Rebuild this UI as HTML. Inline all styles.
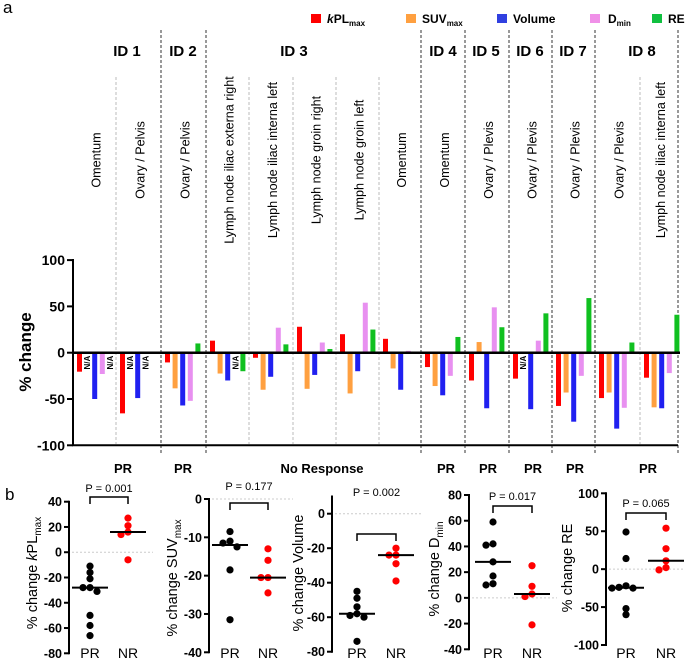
<!DOCTYPE html>
<html><head><meta charset="utf-8">
<style>
html,body{margin:0;padding:0;background:#fff;}
svg{display:block;font-family:"Liberation Sans",Arial,sans-serif;}
</style></head>
<body>
<svg id="fig" width="685" height="659" viewBox="0 0 685 659" xmlns="http://www.w3.org/2000/svg">
<text x="3" y="13" font-size="17">a</text>
<text x="5" y="500" font-size="17">b</text>
<g font-size="12" font-weight="bold">
 <rect x="311" y="14" width="10" height="9" fill="#ff0000"/>
 <text x="327" y="23"><tspan font-style="italic">k</tspan>PL<tspan font-size="8" dy="3">max</tspan></text>
 <rect x="406" y="14" width="10" height="9" fill="#ffa040"/>
 <text x="422" y="23">SUV<tspan font-size="8" dy="3">max</tspan></text>
 <rect x="497" y="14" width="10" height="9" fill="#3040e0"/>
 <text x="513" y="23">Volume</text>
 <rect x="590" y="14" width="10" height="9" fill="#f090e8"/>
 <text x="608" y="23">D<tspan font-size="8" dy="3">min</tspan></text>
 <rect x="652" y="14" width="10" height="9" fill="#10c040"/>
 <text x="668" y="23">RE</text>
</g>
<g id="barchart"></g>
<g id="dots"></g>
</svg>
<script>
// ---------- panel a data ----------
const lesionNames = ["Omentum","Ovary / Pelvis","Ovary / Pelvis","Lymph node iliac externa right","Lymph node iliac interna left","Lymph node groin right","Lymph node groin left","Omentum","Omentum","Ovary / Plevis","Ovary / Plevis","Ovary / Plevis","Ovary / Plevis","Lymph node iliac interna left"];
const kplValues = [-20.5,-65.5,-10.5,13,-5.5,28,20,15,-15.5,-30,-28,-57.5,-49,-27];
const suvValues = [null,null,-38.5,-22.5,-40,-39,-44,-17,-36,11.5,null,-43,-43,-59];
const volumeValues = [-50,-49,-57,-30,-26,-24,-20,-40,-46,-60,-61,-74.5,-82,-60];
const dminValues = [-23,null,-52,null,27,11,54,2,-25,49,13,-25,-59.5,-22];
const reValues = [null,null,10,-20,9,4,25,0,17,27.5,42.5,59,11,41];
const idLabels = ["ID 1","ID 2","ID 3","ID 4","ID 5","ID 6","ID 7","ID 8"];
const responseLabels = ["PR","PR","No Response","PR","PR","PR","PR","PR"];
const yTicksA = [100,50,0,-50,-100];

// ---------- panel b data ----------
const kplPR = [-11,-16,-21,-28,-28,-31,-50,-58,-66];
const kplNR = [27,21,16,14,-6];
const suvPR = [-8.5,-11,-11.5,-12.5,-18.5,-31.5];
const suvNR = [-13,-16,-20.5,-20.5,-24.5];
const volPR = [-45,-49,-54,-58,-59,-60,-74];
const volNR = [-20,-24,-24,-29,-39];
const dminPR = [59,42,41,28,17,11,10];
const dminNR = [25,9,3,1,-21];
const rePR = [49,14,-22,-24,-25,-25,-52,-60];
const reNR = [54,27,11,2,-1];
const pValues = ["P = 0.001","P = 0.177","P = 0.002","P = 0.017","P = 0.065"];

const NS = "http://www.w3.org/2000/svg";
function mk(parent, tag, attrs, txt){
  const e = document.createElementNS(NS, tag);
  for (const k in attrs) e.setAttribute(k, attrs[k]);
  if (txt !== undefined) e.textContent = txt;
  parent.appendChild(e);
  return e;
}

// ---------- panel a ----------
const bc = document.getElementById('barchart');
const Y0 = 352.7, SC = 0.926;
function yA(v){ return Y0 - v*SC; }
const lesionStarts = [73,116,161,206,249,293,336,379,421,465,509,552,595,640];
const lesionEnd = 678;
const darkSeps = [161,206,421,465,509,552,595,678];
const lightSeps = [116,249,293,336,379,640];
lightSeps.forEach(x=>{
  const l = mk(bc,'line',{x1:x,x2:x,y1:77,y2:444,stroke:'#bbb','stroke-width':1,'stroke-dasharray':'3,2'});
  
  
});
darkSeps.forEach(x=>{
  const l = mk(bc,'line',{x1:x,x2:x,y1:30,y2:455,stroke:'#333','stroke-width':1,'stroke-dasharray':'3,2'});
  
  
});
const ya = mk(bc,'line',{x1:73,x2:73,y1:259,y2:445,stroke:'#000','stroke-width':2});


yTicksA.forEach(t=>{
  const tk = mk(bc,'line',{x1:67,x2:73,y1:yA(t),y2:yA(t),stroke:'#000','stroke-width':2});
  
  
  const tl = mk(bc,'text',{x:65,y:yA(t)+5,'text-anchor':'end','font-size':14,'font-weight':'bold'},String(t));
  
  
});
const yt = mk(bc,'text',{x:0,y:0,'text-anchor':'middle','font-size':17,'font-weight':'bold',transform:'translate(31,352) rotate(-90)'},'% change');



const series = [kplValues,suvValues,volumeValues,dminValues,reValues];
const colors = ['#ff0000','#ffa040','#2020f0','#e890f0','#10c020'];
const seriesNames = ['kpl','suv','volume','dmin','re'];
lesionStarts.forEach((x0,i)=>{
  const x1 = i<lesionStarts.length-1 ? lesionStarts[i+1] : lesionEnd;
  const cx = (x0+x1)/2 + 2;
  const lab = mk(bc,'text',{x:0,y:0,'text-anchor':'middle','font-size':12.6,transform:`translate(${cx+4},160) rotate(-90)`},lesionNames[i]);
  
  
  let naShown = 0;
  series.forEach((arr,s)=>{
    const bx = x0 + 4 + s*7.6;
    const v = arr[i];
    if (v === null){
      // consecutive missing values share one label
      if (s>0 && arr !== series[0] && series[s-1][i] === null && naShown && s===naShown+1 && s!==1){ naShown = s; return; }
      if (s>=3 && series[s-1][i] === null && s-1>=3){ return; }
      naShown = s;
      const na = mk(bc,'text',{x:0,y:0,'text-anchor':'end','font-size':8,'font-weight':'bold',transform:`translate(${bx+5.5},${Y0+3}) rotate(-90)`},'N/A');
      
      
      return;
    }
    const top = Math.min(yA(v),Y0), h = Math.abs(yA(v)-Y0);
    const r = mk(bc,'rect',{x:bx,y:top,width:5,height:h,fill:colors[s]});
    
    
  });
});
const zl = mk(bc,'line',{x1:73,x2:680,y1:Y0,y2:Y0,stroke:'#000','stroke-width':2.5});


const bl = mk(bc,'line',{x1:72,x2:678,y1:yA(-100),y2:yA(-100),stroke:'#000','stroke-width':2});



const idX = [127,183,294,443,486,530,573,642];
const respX = [123,183,322,446,488,533,575,648];
idLabels.forEach((t,i)=>{
  const e = mk(bc,'text',{x:idX[i],y:56,'text-anchor':'middle','font-size':15,'font-weight':'bold'},t);
  
  
});
responseLabels.forEach((t,i)=>{
  const e = mk(bc,'text',{x:respX[i],y:473,'text-anchor':'middle','font-size':13,'font-weight':'bold'},t);
  
  
});

// ---------- panel b ----------
const dots = document.getElementById('dots');
const plots = [
 {ax:69, vTop:40, yTop:501.7, vBot:-80, yBot:653.3, axTop:40, ticks:[40,20,0,-20,-40,-60,-80], xPR:90, xNR:128, brY:497, pY:492, pr:kplPR, nr:kplNR, tx:32, ty:573, title:'kpl', zero:0},
 {ax:209, vTop:0, yTop:499, vBot:-40, yBot:652.3, axTop:0, ticks:[0,-10,-20,-30,-40], xPR:230, xNR:268, brY:503, pY:490, pr:suvPR, nr:suvNR, tx:172, ty:578, title:'suv', zero:0},
 {ax:332, vTop:0, yTop:513.7, vBot:-80, yBot:651.7, axTop:10, ticks:[0,-20,-40,-60,-80], xPR:357, xNR:396, brY:534, pY:496, pr:volPR, nr:volNR, tx:298, ty:573, title:'volume', zero:0},
 {ax:469, vTop:80, yTop:495, vBot:-40, yBot:649.3, axTop:80, ticks:[80,60,40,20,0,-20,-40], xPR:493, xNR:532, brY:506, pY:500, pr:dminPR, nr:dminNR, tx:434, ty:569, title:'dmin', zero:0},
 {ax:606, vTop:100, yTop:493.3, vBot:-100, yBot:645, axTop:100, ticks:[100,50,0,-50,-100], xPR:626, xNR:666, brY:513, pY:507, pr:rePR, nr:reNR, tx:567, ty:568, title:'re', zero:0}
];
function median(a){ const s=[...a].sort((p,q)=>p-q); const n=s.length; return n%2? s[(n-1)/2] : (s[n/2-1]+s[n/2])/2; }
plots.forEach((p,pi)=>{
  const g = mk(dots,'g',{});
  
  
  const yv = v => p.yTop + (p.vTop - v)*(p.yBot-p.yTop)/(p.vTop-p.vBot);
  const zr = mk(g,'line',{x1:p.ax+3,x2:p.xNR+25,y1:yv(p.zero),y2:yv(p.zero),stroke:'#ccc','stroke-width':1,'stroke-dasharray':'2,2'});
  
  
  const axl = mk(g,'line',{x1:p.ax,x2:p.ax,y1:yv(p.axTop)-1,y2:p.yBot+1,stroke:'#000','stroke-width':2});
  
  
  p.ticks.forEach(t=>{
    const tk = mk(g,'line',{x1:p.ax-5,x2:p.ax,y1:yv(t),y2:yv(t),stroke:'#000','stroke-width':2});
    
    
    const tl = mk(g,'text',{x:p.ax-7,y:yv(t)+4.5,'text-anchor':'end','font-size':12.5,'font-weight':'bold'},String(t));
    
    
  });
  [['PR',p.xPR],['NR',p.xNR]].forEach(([t,x])=>{
    const e = mk(g,'text',{x:x,y:658,'text-anchor':'middle','font-size':14},t);
    
    
  });
  const br = mk(g,'path',{d:`M${p.xPR},${p.brY+7}V${p.brY}H${p.xNR}V${p.brY+7}`,fill:'none',stroke:'#000','stroke-width':1.5});
  
  
  const pt = mk(g,'text',{x:(p.xPR+p.xNR)/2,y:p.pY,'text-anchor':'middle','font-size':11},pValues[pi]);
  
  
  [[p.pr,p.xPR,'#000','pr'],[p.nr,p.xNR,'#ff0000','nr']].forEach(([arr,xc,col,nm])=>{
    const placed = [];
    arr.forEach(v=>{
      const y = yv(v);
      const near = placed.filter(q=>Math.abs(q-y)<6).length;
      const dx = near===0 ? 0 : (near%2===1 ? -1 : 1)*Math.ceil(near/2)*7;
      placed.push(y);
      const c = mk(g,'circle',{cx:xc+dx,cy:y,r:3.6,fill:col});
      
      
    });
    const m = yv(median(arr));
    const ml = mk(g,'line',{x1:xc-18,x2:xc+18,y1:m,y2:m,stroke:'#000','stroke-width':2});
    
    
  });
});
const titleData = [
  ['% change ',[['k','italic'],['PL',''],['max','sub']]],
  ['% change SUV',[['max','sub']]],
  ['% change Volume',[]],
  ['% change D',[['min','sub']]],
  ['% change RE',[]]
];
plots.forEach((p,i)=>{
  const t = mk(dots,'text',{x:0,y:0,'text-anchor':'middle','font-size':14.5,transform:`translate(${p.tx+5},${p.ty}) rotate(-90)`});
  
  
  mk(t,'tspan',{},titleData[i][0]);
  titleData[i][1].forEach(([s,st])=>{
    if (st==='sub'){ mk(t,'tspan',{'font-size':10,dy:4},s); }
    else if (st==='italic'){ mk(t,'tspan',{'font-style':'italic'},s); }
    else mk(t,'tspan',{},s);
  });
});
</script>
</body></html>
